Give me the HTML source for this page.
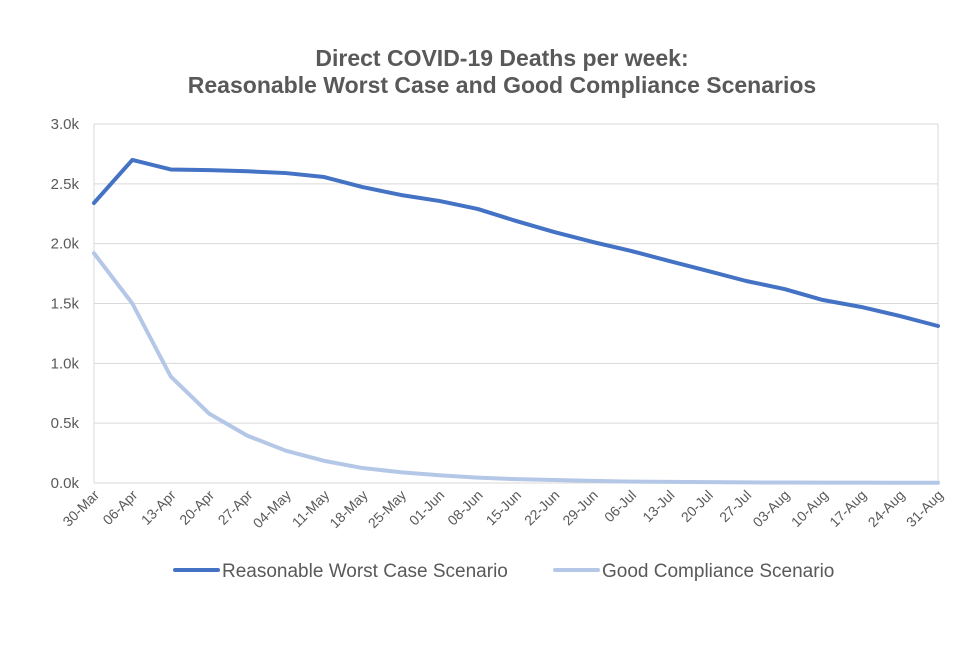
<!DOCTYPE html>
<html><head><meta charset="utf-8"><style>
body{margin:0;background:#fff;}
svg text{font-family:"Liberation Sans",Arial,sans-serif;}
</style></head><body>
<svg id="chart" width="960" height="640" xmlns="http://www.w3.org/2000/svg">
<text x="502" y="66" text-anchor="middle" font-size="23" font-weight="bold" fill="#595959">Direct COVID-19 Deaths per week:</text>
<text x="502" y="93" text-anchor="middle" font-size="23" font-weight="bold" fill="#595959">Reasonable Worst Case and Good Compliance Scenarios</text>
<g id="grid"></g><g id="xlabels"></g><g id="series"></g>
<g>
<line x1="175" y1="570" x2="218" y2="570" stroke="#4472C4" stroke-width="4" stroke-linecap="round"/>
<text x="222" y="577" font-size="19" fill="#595959">Reasonable Worst Case Scenario</text>
<line x1="555" y1="570" x2="598" y2="570" stroke="#B4C7E7" stroke-width="4" stroke-linecap="round"/>
<text x="602" y="577" font-size="19" fill="#595959">Good Compliance Scenario</text>
</g>
</svg>
<script>
const categories=["30-Mar","06-Apr","13-Apr","20-Apr","27-Apr","04-May","11-May","18-May","25-May","01-Jun","08-Jun","15-Jun","22-Jun","29-Jun","06-Jul","13-Jul","20-Jul","27-Jul","03-Aug","10-Aug","17-Aug","24-Aug","31-Aug"];
const worstCase=[2340,2700,2620,2615,2605,2590,2557,2473,2407,2357,2290,2190,2097,2014,1939,1855,1772,1688,1621,1529,1471,1396,1312];
const goodCompliance=[1920,1500,890,580,395,270,185,125,90,65,45,32,25,18,12,9,7,5,4,3,3,2,2];
const yTicks=[0,500,1000,1500,2000,2500,3000];
const yTickLabels=["0.0k","0.5k","1.0k","1.5k","2.0k","2.5k","3.0k"];
const NS="http://www.w3.org/2000/svg";
const L=94,R=938,T=124,B=483,yMax=3000;
const xs=i=>L+(R-L)*i/(categories.length-1);
const ys=v=>B-(B-T)*v/yMax;
function mk(tag,attrs,parent){const e=document.createElementNS(NS,tag);for(const k in attrs)e.setAttribute(k,attrs[k]);parent.appendChild(e);return e;}
const grid=document.getElementById('grid');
yTicks.forEach((v,i)=>{
 const g=mk('line',{x1:L,x2:R,y1:ys(v),y2:ys(v),stroke:'#d9d9d9','stroke-width':1},grid);
 
 
 const t=mk('text',{x:L-15,y:ys(v)+5,'text-anchor':'end','font-size':15,fill:'#595959'},grid);
 t.textContent=yTickLabels[i];
 
 
});
const lv=mk('line',{x1:L,x2:L,y1:T,y2:B,stroke:'#d9d9d9'},grid);


const rv=mk('line',{x1:R,x2:R,y1:T,y2:B,stroke:'#d9d9d9'},grid);


const xl=document.getElementById('xlabels');
categories.forEach((c,i)=>{
 const x=xs(i)+6,y=B+13;
 const t=mk('text',{x:x,y:y,'text-anchor':'end','font-size':14,fill:'#595959',transform:`rotate(-45 ${x} ${y})`},xl);
 t.textContent=c;
 
 
});
const sg=document.getElementById('series');
function line(vals,color,name){
 const p=mk('polyline',{points:vals.map((v,i)=>xs(i)+','+ys(v)).join(' '),fill:'none',stroke:color,'stroke-width':4,'stroke-linejoin':'round','stroke-linecap':'round'},sg);
 
 
}
line(goodCompliance,'#B4C7E7','good-compliance-line');
line(worstCase,'#4472C4','worst-case-line');
</script>
</body></html>
